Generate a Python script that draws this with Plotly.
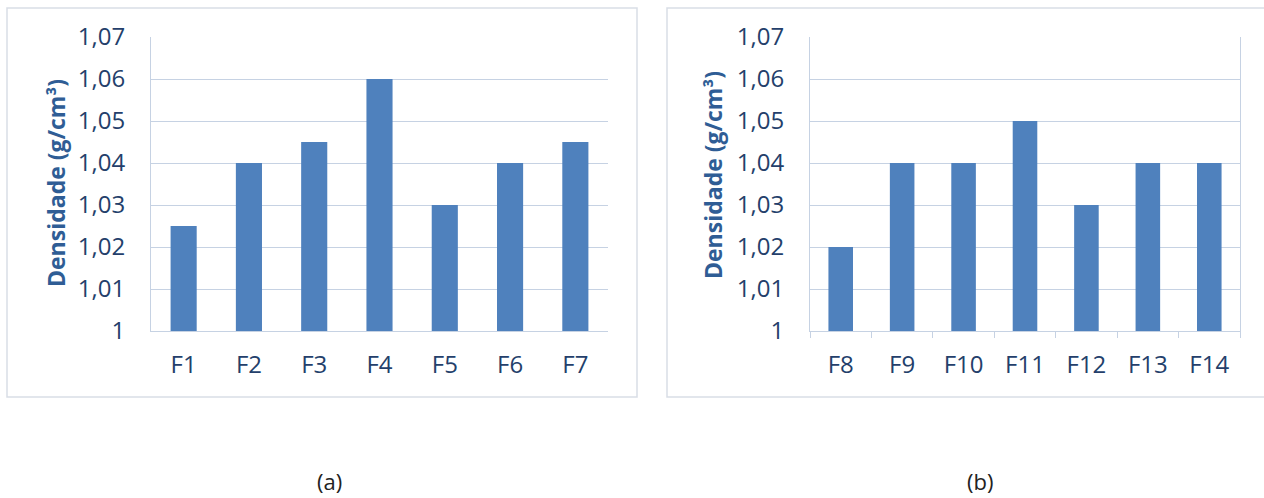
import plotly.graph_objects as go

W, H = 1264, 498

cats_a = ["F1", "F2", "F3", "F4", "F5", "F6", "F7"]
vals_a = [1.025, 1.04, 1.045, 1.06, 1.03, 1.04, 1.045]
cats_b = ["F8", "F9", "F10", "F11", "F12", "F13", "F14"]
vals_b = [1.02, 1.04, 1.04, 1.05, 1.03, 1.04, 1.04]
y_tickvals = [1.0, 1.01, 1.02, 1.03, 1.04, 1.05, 1.06, 1.07]
y_ticktext = ["1", "1,01", "1,02", "1,03", "1,04", "1,05", "1,06", "1,07"]
y_title = "Densidade (g/cm³)"
panel_labels = ["(a)", "(b)"]

BAR = "#4F81BD"
GRID = "#C6D2E3"
TICK = "#243F6B"
TITLE = "#2F5D95"
FONT = "Open Sans"

def px(x):
    return x / W

def py(y):
    return 1 - y / H

fig = go.Figure()
fig.add_trace(go.Bar(x=cats_a, y=vals_a, marker=dict(color=BAR, line=dict(width=0)),
                     xaxis="x", yaxis="y", showlegend=False))
fig.add_trace(go.Bar(x=cats_b, y=vals_b, marker=dict(color=BAR, line=dict(width=0)),
                     xaxis="x2", yaxis="y2", showlegend=False))

yaxis_common = dict(range=[1.0, 1.07], tickvals=y_tickvals, ticktext=y_ticktext,
                    showgrid=True, gridcolor=GRID, gridwidth=1, zeroline=False,
                    showline=True, linecolor=GRID, linewidth=1, ticks="",
                    ticklabelstandoff=20, automargin=False,
                    tickfont=dict(family=FONT, size=24, color=TICK),
                    domain=[py(331), py(37)])
xaxis_common = dict(showgrid=False, zeroline=False, showline=True, linecolor=GRID,
                    linewidth=1, tickfont=dict(family=FONT, size=24, color=TICK),
                    ticklabelstandoff=12, automargin=False)

fig.update_layout(
    template="none",
    width=W, height=H, margin=dict(l=0, r=0, t=0, b=0, pad=0, autoexpand=False),
    paper_bgcolor="white", plot_bgcolor="white",
    bargap=0.6,
    xaxis=dict(**xaxis_common, domain=[px(151), px(608)], anchor="y", ticks=""),
    yaxis=dict(**yaxis_common, anchor="x"),
    xaxis2=dict(**xaxis_common, domain=[px(810), px(1240)], anchor="y2",
                ticks="outside", tickson="boundaries", ticklen=6, tickcolor=GRID),
    yaxis2=dict(**yaxis_common, anchor="x2", mirror=True),
    font=dict(family=FONT),
)

# panel borders
fig.add_shape(type="rect", xref="paper", yref="paper",
              x0=px(7), x1=px(637), y0=py(397), y1=py(8),
              line=dict(color="#D9DEE6", width=1.5), layer="below")
fig.add_shape(type="rect", xref="paper", yref="paper",
              x0=px(667), x1=px(1270), y0=py(397), y1=py(8),
              line=dict(color="#D9DEE6", width=1.5), layer="below")

# y titles
for xc, yc in [(56, 183), (713, 175)]:
    fig.add_annotation(text=f"<b>{y_title}</b>", xref="paper", yref="paper",
                       x=px(xc), y=py(yc), showarrow=False, textangle=-90,
                       font=dict(family=FONT, size=23, color=TITLE),
                       xanchor="center", yanchor="middle")

# panel labels
for lab, xc in zip(panel_labels, [329, 980]):
    fig.add_annotation(text=lab, xref="paper", yref="paper", x=px(xc), y=py(481),
                       showarrow=False, font=dict(family=FONT, size=22, color="#222222"),
                       xanchor="center", yanchor="middle")

fig.write_html("out.html")
